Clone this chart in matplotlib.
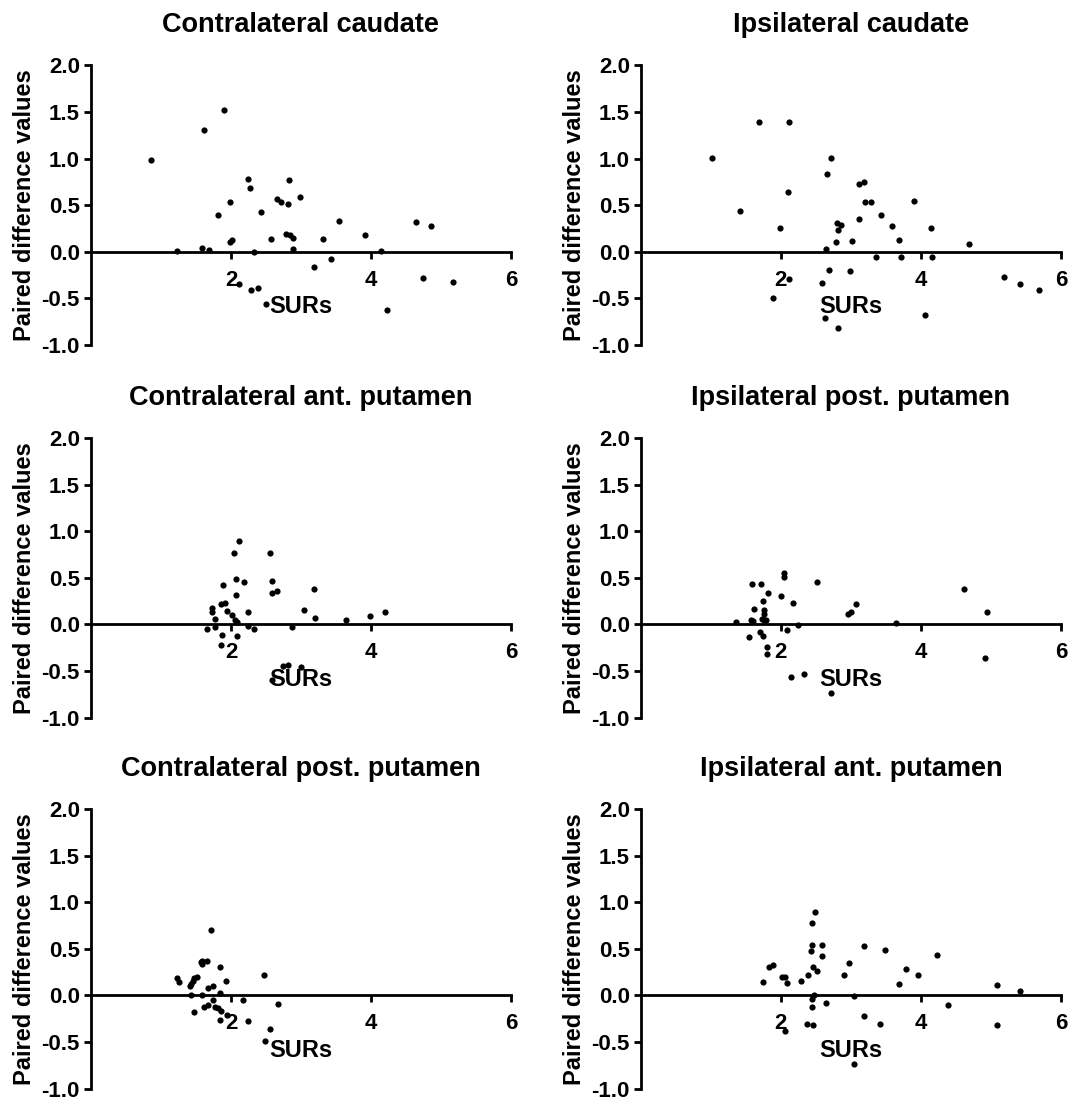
import numpy as np
from matplotlib import pyplot as plt

plt.rcParams['font.family'] = ['Liberation Sans', 'DejaVu Sans']
plt.rcParams['font.weight'] = 'bold'

# Contralateral caudate
cc_x = [0.86, 1.62, 1.90, 1.23, 1.59, 1.69, 1.81, 1.99, 1.98, 2.01, 2.24, 2.27, 2.43,
        2.33, 2.57, 2.66, 2.72, 2.82, 2.83, 2.99, 2.79, 2.84, 2.89, 2.88, 3.32, 3.54,
        3.19, 3.43, 3.91, 4.14, 4.64, 4.86, 4.75, 5.17, 4.23, 2.11, 2.29, 2.39, 2.50]
cc_y = [0.98, 1.31, 1.52, 0.01, 0.04, 0.02, 0.39, 0.53, 0.11, 0.13, 0.78, 0.68, 0.43,
        0.00, 0.14, 0.57, 0.54, 0.51, 0.77, 0.59, 0.19, 0.18, 0.15, 0.03, 0.14, 0.33,
        -0.16, -0.08, 0.18, 0.01, 0.32, 0.28, -0.28, -0.32, -0.62, -0.34, -0.41, -0.39, -0.56]

# Ipsilateral caudate
ic_x = [1.01, 1.42, 1.68, 2.12, 2.10, 1.99, 2.12, 1.88, 2.58, 2.63, 2.81, 2.69, 2.64,
        2.66, 2.72, 2.78, 2.80, 2.86, 2.82, 3.02, 2.98, 3.11, 3.19, 3.12, 3.20, 3.28,
        3.36, 3.43, 3.59, 3.69, 3.71, 3.90, 4.06, 4.15, 4.16, 4.68, 5.19, 5.41, 5.69]
ic_y = [1.01, 0.44, 1.39, 1.39, 0.64, 0.26, -0.29, -0.49, -0.33, -0.71, -0.82, -0.19, 0.03,
        0.83, 1.01, 0.11, 0.31, 0.29, 0.23, 0.12, -0.21, 0.73, 0.75, 0.35, 0.53, 0.53,
        -0.05, 0.40, 0.28, 0.13, -0.06, 0.55, -0.68, 0.26, -0.06, 0.08, -0.27, -0.34, -0.41]

# Contralateral ant. putamen
cap_x = [2.12, 2.05, 2.56, 2.07, 2.18, 1.89, 2.07, 2.58, 2.58, 2.66, 3.18, 3.05, 3.20,
         3.64, 3.98, 4.20, 1.73, 1.73, 1.86, 1.92, 1.95, 1.77, 2.02, 2.06, 2.08, 2.24,
         2.24, 2.33, 1.66, 1.77, 1.87, 2.08, 1.86, 2.87, 2.74, 2.82, 3.00, 2.59]
cap_y = [0.90, 0.77, 0.77, 0.49, 0.45, 0.42, 0.32, 0.47, 0.34, 0.36, 0.38, 0.15, 0.07,
         0.05, 0.09, 0.13, 0.18, 0.13, 0.22, 0.23, 0.14, 0.06, 0.10, 0.05, 0.03, 0.13,
         -0.02, -0.05, -0.05, -0.03, -0.11, -0.12, -0.22, -0.03, -0.45, -0.44, -0.46, -0.60]

# Ipsilateral post. putamen
ipp_x = [1.36, 1.54, 1.58, 1.71, 1.57, 1.60, 1.62, 1.70, 1.74, 1.75, 1.76, 1.76, 1.73,
         1.76, 1.79, 1.81, 1.80, 1.80, 2.00, 2.04, 2.04, 2.09, 2.17, 2.25, 2.15, 2.33,
         2.51, 2.72, 2.96, 3.00, 3.07, 3.65, 4.61, 4.95, 4.91]
ipp_y = [0.03, -0.13, 0.43, 0.43, 0.05, 0.04, 0.16, -0.08, -0.12, 0.25, 0.15, 0.11, 0.06,
         0.05, 0.05, 0.34, -0.24, -0.32, 0.31, 0.55, 0.51, -0.06, 0.23, -0.01, -0.56, -0.53,
         0.45, -0.74, 0.11, 0.13, 0.22, 0.01, 0.38, 0.13, -0.36]

# Contralateral post. putamen
cpp_x = [1.72, 1.57, 1.59, 1.66, 1.58, 1.84, 1.23, 1.26, 1.52, 1.47, 1.46, 1.43, 1.42,
         1.93, 2.47, 1.67, 1.75, 1.84, 1.43, 1.59, 1.74, 2.17, 2.67, 1.47, 1.61, 1.67,
         1.77, 1.82, 1.86, 1.84, 2.25, 2.56, 2.48, 1.95]
cpp_y = [0.70, 0.36, 0.37, 0.37, 0.34, 0.31, 0.19, 0.14, 0.20, 0.19, 0.15, 0.12, 0.10,
         0.15, 0.22, 0.08, 0.10, 0.03, 0.00, 0.00, -0.05, -0.05, -0.09, -0.18, -0.12, -0.10,
         -0.12, -0.14, -0.17, -0.26, -0.27, -0.36, -0.49, -0.21]

# Ipsilateral ant. putamen
iap_x = [1.74, 1.83, 1.88, 2.01, 2.06, 2.08, 2.06, 2.29, 2.38, 2.37, 2.46, 2.49, 2.45,
         2.45, 2.43, 2.46, 2.52, 2.47, 2.44, 2.44, 2.58, 2.59, 2.64, 2.90, 2.97, 3.05,
         3.18, 3.18, 3.41, 3.05, 3.49, 3.68, 3.78, 3.96, 4.23, 4.38, 5.08, 5.08, 5.41]
iap_y = [0.14, 0.30, 0.33, 0.20, 0.20, 0.13, -0.38, 0.15, 0.22, -0.31, -0.32, 0.90, 0.78,
         0.54, 0.48, 0.31, 0.26, 0.01, -0.04, -0.12, 0.54, 0.42, -0.08, 0.22, 0.35, -0.01,
         0.53, -0.22, -0.31, -0.74, 0.49, 0.12, 0.28, 0.22, 0.43, -0.10, 0.11, -0.32, 0.05]

titles = ["Contralateral caudate", "Ipsilateral caudate",
          "Contralateral ant. putamen", "Ipsilateral post. putamen",
          "Contralateral post. putamen", "Ipsilateral ant. putamen"]
panels = [(cc_x, cc_y), (ic_x, ic_y), (cap_x, cap_y),
          (ipp_x, ipp_y), (cpp_x, cpp_y), (iap_x, iap_y)]

fig = plt.figure(figsize=(10.70, 10.99), dpi=100)

lefts = [0.085, 0.599]
bottoms = [0.686, 0.347, 0.0094]
w, h = 0.3925, 0.2545

for i, (title, (xs, ys)) in enumerate(zip(titles, panels)):
    ax = fig.add_axes([lefts[i % 2], bottoms[i // 2], w, h])
    ax.scatter(xs, ys, s=20, color='black', linewidths=0, zorder=3, clip_on=False)
    ax.set_xlim(0, 6)
    ax.set_ylim(-1.0, 2.0)
    ax.spines['top'].set_visible(False)
    ax.spines['right'].set_visible(False)
    ax.spines['bottom'].set_position(('data', 0))
    ax.spines['left'].set_linewidth(2)
    ax.spines['bottom'].set_linewidth(2)
    ax.set_xticks([2, 4, 6])
    ax.set_yticks(np.arange(-1.0, 2.01, 0.5))
    ax.yaxis.set_major_formatter(plt.FormatStrFormatter('%.1f'))
    ax.tick_params(width=2, length=5, labelsize=16, pad=3)
    ax.tick_params(axis='x', pad=8)
    for lab in ax.get_xticklabels() + ax.get_yticklabels():
        lab.set_fontweight('bold')
    ax.set_xlabel('SURs', fontsize=17, fontweight='bold', labelpad=3)
    ax.set_ylabel('Paired difference values', fontsize=17, fontweight='bold', labelpad=4)
    ax.set_title(title, fontsize=19.5, fontweight='bold', pad=24)

plt.savefig('out.png', dpi=100)
plt.close()
